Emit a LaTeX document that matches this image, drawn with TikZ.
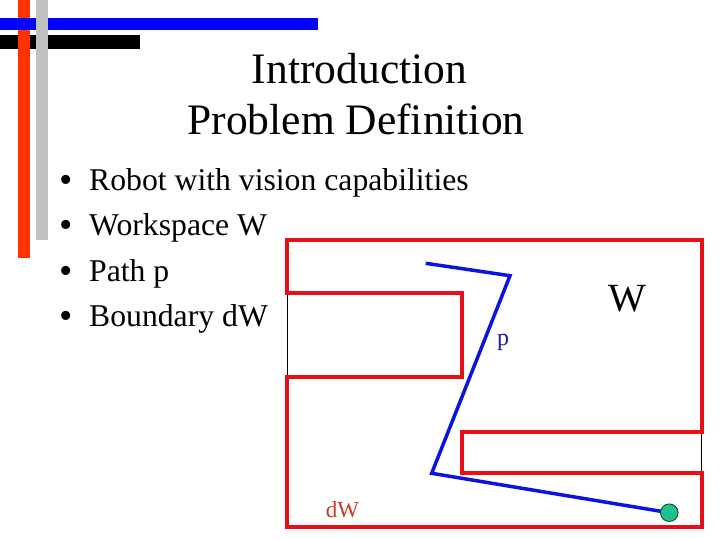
\documentclass[tikz,border=0pt]{standalone}
\usepackage{fontspec}
\setmainfont{Liberation Serif}
\definecolor{barred}{RGB}{255,51,0}
\definecolor{bargrey}{RGB}{192,192,192}
\definecolor{barblue}{RGB}{0,0,255}
\definecolor{wallred}{RGB}{232,16,22}
\definecolor{pathblue}{RGB}{10,20,220}
\definecolor{plabel}{RGB}{30,30,150}
\definecolor{dwlabel}{RGB}{200,60,40}
\definecolor{robotgreen}{RGB}{32,192,144}
\tikzset{
  titletext/.style={anchor=base,inner sep=0pt,font=\fontsize{43.5}{52}\selectfont},
  bullettext/.style={anchor=base west,inner sep=0pt,font=\fontsize{31.7}{38}\selectfont},
  bulletmark/.style={anchor=base,inner sep=0pt,font=\fontsize{38}{40}\selectfont},
  wall/.style={draw=wallred,line width=3.8pt,line join=miter},
  opening/.style={draw=black,line width=1.5pt},
  robotpath/.style={draw=pathblue,line width=3.5pt,line join=miter},
}
\begin{document}
\begin{tikzpicture}[x=1pt,y=-1pt]
\useasboundingbox[fill=white] (0,0) rectangle (720,540);
% decorative bars
\fill[black] (0,35) rectangle (140,49.3);
\fill[barred] (18.3,0) rectangle (30,258);
\fill[barblue] (0,18.3) rectangle (317.7,30);
\fill[bargrey] (36,0) rectangle (47.7,240);
% title
\node[titletext] (t1) at (359.5,83.3) {Introduction};
\node[titletext] (t2) at (356,135) {Problem Definition};
% bullets
\foreach \y/\txt/\nm in {190.7/Robot with vision capabilities/b1,236/Workspace W/b2,281.7/Path p/b3,326.7/Boundary dW/b4}{
  \node[bulletmark] (\nm m) at (66,\y+1.5) {•};
  \node[bullettext] (\nm) at (89,\y) {\txt};
}
% openings (black thin walls)
\draw[opening] (287.3,293.3) -- (287.3,376.7);
\draw[opening] (701.7,431.7) -- (701.7,473.3);
% workspace boundary
\draw[wall] (287.3,293.3) -- (287.3,240) -- (701.7,240) -- (701.7,431.7)
  -- (462.3,431.7) -- (462.3,473.3) -- (701.7,473.3) -- (701.7,526.7)
  -- (287.3,526.7) -- (287.3,376.7) -- (461.7,376.7) -- (461.7,293.3) -- cycle;
% path
\coordinate (p0) at (425.7,263.3);
\coordinate (p1) at (510,275.7);
\coordinate (p2) at (431.7,473.3);
\node[circle,minimum size=17.6pt,inner sep=0pt] (robot) at (669.3,512.7) {};
\draw[robotpath] (p0) -- (p1) -- (p2) -- (robot.center);
\node[circle,minimum size=17.6pt,inner sep=0pt,fill=robotgreen,draw=black!70!green,line width=0.8pt] at (robot.center) {};
% labels
\node[anchor=base,inner sep=0pt,text=plabel,font=\fontsize{24}{28}\selectfont] (plab) at (503,345) {p};
\node[anchor=base,inner sep=0pt,font=\fontsize{40}{46}\selectfont] (wlab) at (627,311) {W};
\node[anchor=base,inner sep=0pt,text=dwlabel,font=\fontsize{23}{27}\selectfont] (dwlab) at (342.5,517) {dW};
\end{tikzpicture}
\end{document}
